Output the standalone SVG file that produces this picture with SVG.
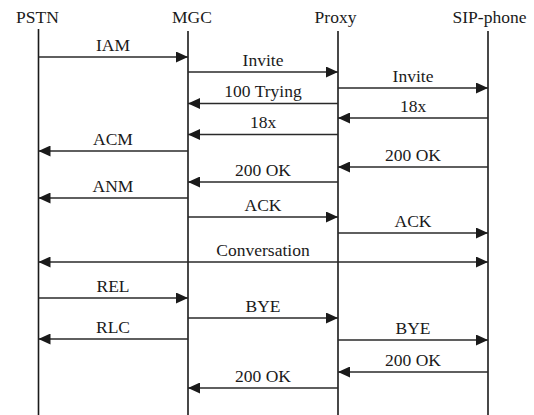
<svg xmlns="http://www.w3.org/2000/svg" width="534" height="415" viewBox="0 0 534 415">
  <defs>
    <style>
      text { font-family: "Liberation Serif", "Times New Roman", serif; font-size: 17.5px; fill: #1a1a1a; text-anchor: middle; }
      .life { stroke: #1a1a1a; stroke-width: 1.6; fill: none; }
      .msg { stroke: #2a2a2a; stroke-width: 1.4; fill: none; }
      .to-r { marker-end: url(#head); }
      .to-l { marker-end: url(#head); }
      .both { marker-start: url(#head-start); marker-end: url(#head); }
    </style>
    <marker id="head" viewBox="0 0 12 11" refX="12" refY="5.5" markerWidth="12" markerHeight="11" markerUnits="userSpaceOnUse" orient="auto">
      <path d="M0,0 L12,5.5 L0,11 Z" fill="#1a1a1a"/>
    </marker>
    <marker id="head-start" viewBox="0 0 12 11" refX="0" refY="5.5" markerWidth="12" markerHeight="11" markerUnits="userSpaceOnUse" orient="auto">
      <path d="M12,0 L0,5.5 L12,11 Z" fill="#1a1a1a"/>
    </marker>
  </defs>
  <rect width="534" height="415" fill="#ffffff"/>

  <!-- participants with lifelines -->
  <g id="pstn">
    <text x="37.5" y="22.5">PSTN</text>
    <line class="life" x1="38.5" y1="29" x2="38.5" y2="415"/>
  </g>
  <g id="mgc">
    <text x="192" y="22.5">MGC</text>
    <line class="life" x1="188" y1="31" x2="188" y2="415"/>
  </g>
  <g id="proxy">
    <text x="335.5" y="22.5">Proxy</text>
    <line class="life" x1="338" y1="31" x2="338" y2="415"/>
  </g>
  <g id="sip-phone">
    <text x="489.5" y="22.5">SIP-phone</text>
    <line class="life" x1="488" y1="31" x2="488" y2="415"/>
  </g>

  <!-- messages -->
  <g id="messages">
    <line class="msg to-r" x1="38.5" y1="57" x2="188" y2="57"/>
    <text x="113" y="50.5">IAM</text>

    <line class="msg to-r" x1="188" y1="72" x2="338" y2="72"/>
    <text x="263" y="65.5">Invite</text>

    <line class="msg to-r" x1="338" y1="88" x2="488" y2="88"/>
    <text x="413" y="81.5">Invite</text>

    <line class="msg to-l" x1="338" y1="103.5" x2="188" y2="103.5"/>
    <text x="263" y="97">100 Trying</text>

    <line class="msg to-l" x1="488" y1="118" x2="338" y2="118"/>
    <text x="413" y="111.5">18x</text>

    <line class="msg to-l" x1="338" y1="134.5" x2="188" y2="134.5"/>
    <text x="263" y="128">18x</text>

    <line class="msg to-l" x1="188" y1="151" x2="38.5" y2="151"/>
    <text x="113" y="144.5">ACM</text>

    <line class="msg to-l" x1="488" y1="167" x2="338" y2="167"/>
    <text x="413" y="160.5">200 OK</text>

    <line class="msg to-l" x1="338" y1="182" x2="188" y2="182"/>
    <text x="263" y="175.5">200 OK</text>

    <line class="msg to-l" x1="188" y1="198" x2="38.5" y2="198"/>
    <text x="113" y="191.5">ANM</text>

    <line class="msg to-r" x1="188" y1="217" x2="338" y2="217"/>
    <text x="263" y="210.5">ACK</text>

    <line class="msg to-r" x1="338" y1="233" x2="488" y2="233"/>
    <text x="413" y="226.5">ACK</text>

    <line class="msg both" x1="38.5" y1="262" x2="488" y2="262"/>
    <text x="263" y="255.5">Conversation</text>

    <line class="msg to-r" x1="38.5" y1="298" x2="188" y2="298"/>
    <text x="113" y="291.5">REL</text>

    <line class="msg to-r" x1="188" y1="318" x2="338" y2="318"/>
    <text x="263" y="311.5">BYE</text>

    <line class="msg to-l" x1="188" y1="339" x2="38.5" y2="339"/>
    <text x="113" y="332.5">RLC</text>

    <line class="msg to-r" x1="338" y1="340" x2="488" y2="340"/>
    <text x="413" y="333.5">BYE</text>

    <line class="msg to-l" x1="488" y1="372" x2="338" y2="372"/>
    <text x="413" y="365.5">200 OK</text>

    <line class="msg to-l" x1="338" y1="388" x2="188" y2="388"/>
    <text x="263" y="381.5">200 OK</text>
  </g>
</svg>
